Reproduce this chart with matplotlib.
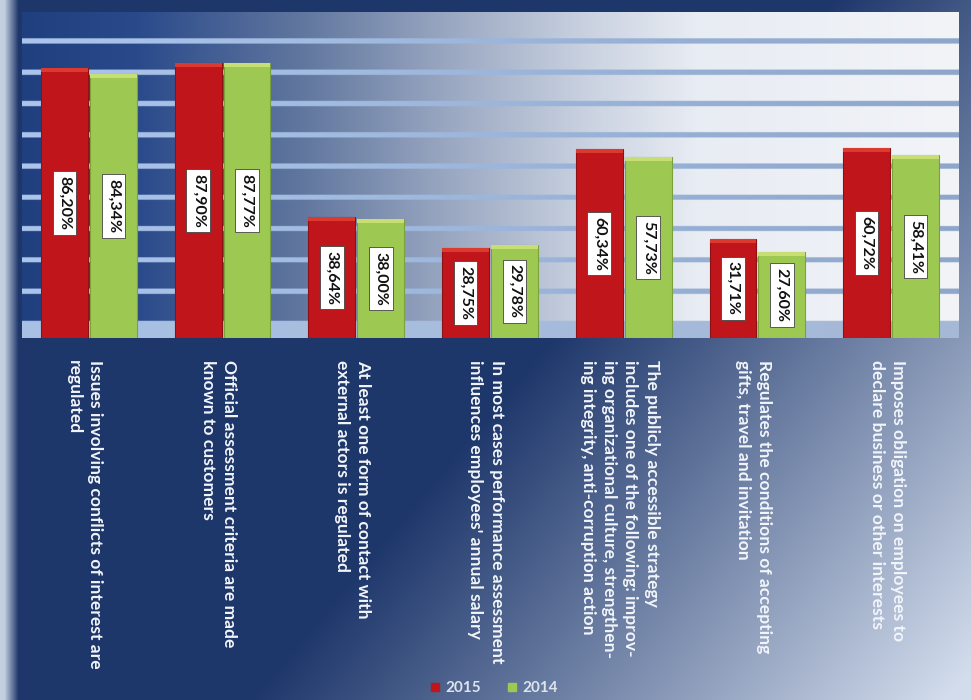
import numpy as np
import matplotlib
matplotlib.use("Agg")
import matplotlib.pyplot as plt
from matplotlib.colors import to_rgb
from matplotlib.lines import Line2D
import matplotlib.transforms as mtransforms

# ---- data -------------------------------------------------------------
categories = [
    "Issues involving conflicts of interest are\nregulated",
    "Official assessment criteria are made\nknown to customers",
    "At least one form of contact with\nexternal actors is regulated",
    "In most cases performance assessment\ninfluences employees' annual salary",
    "The publicly accessible strategy\nincludes one of the following: improv-\n"
    "ing organizational culture, strengthen-\ning integrity, anti-corruption action",
    "Regulates the conditions of accepting\ngifts, travel and invitation",
    "Imposes obligation on employees to\ndeclare business or other interests",
]
values_2015 = [86.20, 87.90, 38.64, 28.75, 60.34, 31.71, 60.72]
values_2014 = [84.34, 87.77, 38.00, 29.78, 57.73, 27.60, 58.41]
series_names = ["2015", "2014"]
grid_values = [15, 25, 35, 45, 55, 65, 75, 85, 95]

RED = "#c0161b"
RED_TOP = "#dc3a2e"
GREEN = "#9dc953"
GREEN_TOP = "#c6de74"

W, H = 971, 700
fig = plt.figure(figsize=(W / 100, H / 100), dpi=100)

# ---- full-figure backdrop ---------------------------------------------
bg = fig.add_axes([0, 0, 1, 1], zorder=-10)
yy, xx = np.mgrid[0:H, 0:W]
navy = np.array(to_rgb("#1e376b"))
pale = np.array(to_rgb("#d2dcec"))
t = np.clip(1.4 * (xx / W + 0.6 * yy / H) - 1.2, 0, 1)[..., None]
img = navy + (pale - navy) * t
edge = np.clip(1 - (xx - 4) / 14.0, 0, 1)[..., None]
img = img + (np.array(to_rgb("#c3cfe0")) - img) * edge
bg.imshow(img, extent=(0, W, H, 0), aspect="auto", interpolation="bilinear")
bg.set_axis_off()

# ---- chart area --------------------------------------------------------
left, right = 22 / W, 958 / W
bottom, top = 1 - 338 / H, 1 - 12 / H
ax = fig.add_axes([left, bottom, right - left, top - bottom])
n = len(categories)
x = np.arange(n)
xmin, xmax = -0.5, n - 0.5
ymax = 104.2
ax.set_xlim(xmin, xmax)
ax.set_ylim(0, ymax)

# horizontal wall gradient with stripes at the grid values
cols = 600
rows = 1042
f = np.linspace(0, 1, cols)
stops = [0, 0.12, 0.3, 0.45, 0.6, 0.72, 1.0]
cstops = [to_rgb(c) for c in ["#1f3f7e", "#29498a", "#61779f", "#98a6c0",
                              "#c9d1e0", "#e8ecf3", "#f2f4f8"]]
wall = np.stack([np.interp(f, stops, [c[k] for c in cstops]) for k in range(3)], -1)
line_l, line_r = np.array(to_rgb("#abc5ec")), np.array(to_rgb("#8ea6ca"))
line_row = line_l + (line_r - line_l) * f[:, None]
floor_l, floor_r = np.array(to_rgb("#a8c1e4")), np.array(to_rgb("#a5b8d6"))
floor_row = floor_l + (floor_r - floor_l) * f[:, None]
vals = (np.arange(rows) + 0.5) / rows * ymax
wall_img = np.repeat(wall[None, :, :], rows, axis=0)
for g in grid_values:
    mask = np.abs(vals - g) < 0.85
    wall_img[mask] = line_row
wall_img[vals < 5.5] = floor_row
ax.imshow(wall_img, extent=(xmin, xmax, 0, ymax), origin="lower",
          aspect="auto", interpolation="bilinear", zorder=0)

# ---- bars --------------------------------------------------------------
bw = 0.35
off = 0.183
v15 = np.array(values_2015)
v14 = np.array(values_2014)
ax.bar(x - off, v15, bw, color=RED, edgecolor="#8e1014", linewidth=0.8,
       zorder=2, label=series_names[0])
ax.bar(x + off, v14, bw, color=GREEN, edgecolor="#7aa23c", linewidth=0.8,
       zorder=2, label=series_names[1])
cap = 1.3
ax.bar(x - off, cap, bw, bottom=v15 - cap, color=RED_TOP, linewidth=0, zorder=3)
ax.bar(x + off, cap, bw, bottom=v14 - cap, color=GREEN_TOP, linewidth=0, zorder=3)

def fmt(v):
    return f"{v:.2f}%".replace(".", ",")

for xs, vs in ((x - off, v15), (x + off, v14)):
    for xi, vi in zip(xs, vs):
        ax.text(xi, vi / 2, fmt(vi), rotation=270, ha="center", va="center",
                fontsize=11.5, fontweight="bold", family="Lato", color="#111111",
                zorder=5,
                bbox=dict(boxstyle="square,pad=0.3", fc="white",
                          ec="#444444", lw=0.6))

ax.set_axis_off()

# ---- category labels (vertical, below the chart) -----------------------
trans = mtransforms.blended_transform_factory(ax.transData, fig.transFigure)
for xi, lab in zip(x, categories):
    ax.text(xi - 0.03, 1 - 360 / H, lab, transform=trans, rotation=270,
            ha="center", va="top", multialignment="left",
            fontsize=12.6, fontweight="bold", family="Lato", color="#f2f5fa",
            linespacing=1.4, clip_on=False)

# ---- legend ------------------------------------------------------------
handles = [Line2D([], [], marker="s", ls="", ms=6, mfc=RED, mec=RED),
           Line2D([], [], marker="s", ls="", ms=6, mfc=GREEN, mec=GREEN)]
leg = fig.legend(handles, series_names, loc="center",
                 bbox_to_anchor=(0.508, 1 - 688 / H), ncol=2, frameon=False,
                 handlelength=0.8, handletextpad=0.3, columnspacing=1.6,
                 prop={"family": "Lato", "weight": "bold", "size": 11})
for txt in leg.get_texts():
    txt.set_color("#dde4ef")

fig.savefig("out.png", dpi=100)
